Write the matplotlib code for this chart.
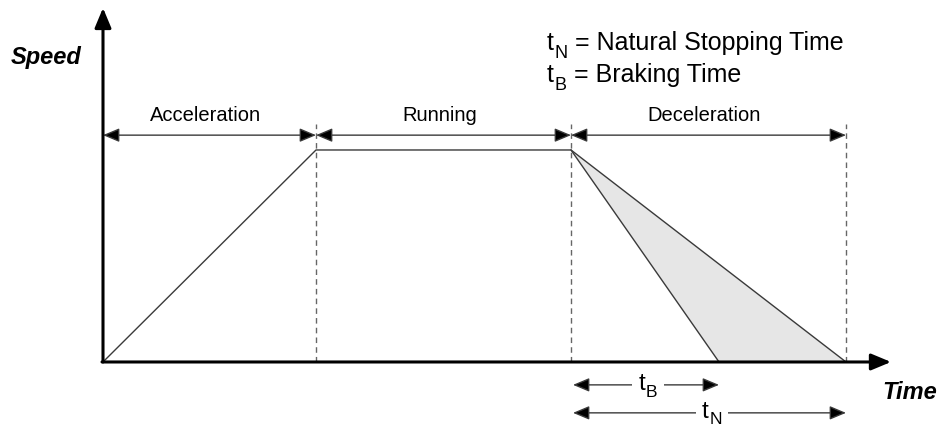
import matplotlib.pyplot as plt

plt.rcParams['font.family'] = ['Liberation Sans', 'DejaVu Sans']

# motion profile (time units, speed normalised to top speed)
phase_names = ['Acceleration', 'Running', 'Deceleration']
phase_bounds = [0.0, 2.13, 4.68, 7.43]
profile_t = [0.0, 2.13, 4.68, 7.43]
profile_v = [0.0, 1.0, 1.0, 0.0]
brake_t = [4.68, 6.16]
brake_v = [1.0, 0.0]
legend_subs = ['N', 'B']
legend_texts = ['= Natural Stopping Time', '= Braking Time']

# 100 px per time unit, 212 px per speed unit
fig = plt.figure(figsize=(9.42, 4.26), dpi=100)
ax = fig.add_axes([0, 0, 1, 1])
ax.set_xlim(-1.03, 8.39)
ax.set_ylim(-0.302, 1.7075)
ax.axis('off')

line_col = '#3a3a3a'


def t_sub(x, y, sub, ha='left', rest=None, size=17.5, drop=5.5):
    # "t" with a dropped subscript, built from plain text pieces
    tw = 0.278 * size
    sw = 0.7 * size * (0.72 if sub == 'N' else 0.667)
    total = tw + sw
    x0 = 0 if ha == 'left' else -total / 2
    ax.annotate('t', (x, y), xytext=(x0, 0), textcoords='offset points',
                fontsize=size, ha='left', va='baseline', zorder=6)
    ax.annotate(sub, (x, y), xytext=(x0 + tw + 0.3, -drop),
                textcoords='offset points', fontsize=size * 0.72,
                ha='left', va='baseline', zorder=6)
    if rest:
        ax.annotate(rest, (x, y), xytext=(x0 + total + 6, 0),
                    textcoords='offset points', fontsize=size,
                    ha='left', va='baseline', zorder=6)


# shaded area between braking and natural stop
ax.fill([brake_t[0], brake_t[1], profile_t[3]],
        [brake_v[0], brake_v[1], profile_v[3]],
        color='#e6e6e6', zorder=1, lw=0)

ax.plot(profile_t, profile_v, color=line_col, lw=1.0, zorder=3)
ax.plot(brake_t, brake_v, color=line_col, lw=1.0, zorder=3)

# dashed phase boundaries
for x in phase_bounds[1:]:
    ax.plot([x, x], [0, 1.123], color='#666666', lw=1.0,
            dashes=(4, 3), zorder=2)

# axes arrows
ax_style = '-|>,head_length=1.2,head_width=0.5'
ax.annotate('', xy=(0, 1.67), xytext=(0, 0),
            arrowprops=dict(arrowstyle=ax_style, lw=2.2, color='black',
                            shrinkA=0, shrinkB=0, mutation_scale=10), zorder=5)
ax.annotate('', xy=(7.88, 0), xytext=(-0.01, 0),
            arrowprops=dict(arrowstyle=ax_style, lw=2.2, color='black',
                            shrinkA=0, shrinkB=0, mutation_scale=10), zorder=5)

ax.text(-0.565, 1.435, 'Speed', fontsize=17, fontweight='bold',
        fontstyle='italic', ha='center', va='center')
ax.text(8.07, -0.145, 'Time', fontsize=17, fontweight='bold',
        fontstyle='italic', ha='center', va='center')

# phase arrows and labels
dim_style = '<|-|>,head_length=1.0,head_width=0.42'
for i, name in enumerate(phase_names):
    a, b = phase_bounds[i], phase_bounds[i + 1]
    ax.annotate('', xy=(b, 1.07), xytext=(a, 1.07),
                arrowprops=dict(arrowstyle=dim_style, lw=1.0,
                                color=line_col, fc='black',
                                shrinkA=0, shrinkB=0, mutation_scale=10))
    ax.text((a + b) / 2 - 0.04, 1.165, name, fontsize=14.5,
            ha='center', va='center')

# tB / tN dimension arrows below the axis
dims = [(brake_t[1], -0.108, 'B', -0.13, 5.5),
        (profile_t[3], -0.24, 'N', -0.262, 4.5)]
for end, y, sub, ty, drop in dims:
    ax.annotate('', xy=(end, y), xytext=(phase_bounds[2] + 0.02, y),
                arrowprops=dict(arrowstyle=dim_style, lw=1.0,
                                color=line_col, fc='black',
                                shrinkA=0, shrinkB=0, mutation_scale=10))
    mid = (phase_bounds[2] + end) / 2 + 0.03
    ax.add_patch(plt.Rectangle((mid - 0.16, y - 0.02), 0.32, 0.04,
                               fc='white', ec='none', zorder=4))
    t_sub(mid, ty, sub, ha='center', drop=drop)

for k in range(len(legend_subs)):
    t_sub(4.44, 1.472 - k * 0.151, legend_subs[k], rest=legend_texts[k],
          size=18)

fig.savefig('out.png', dpi=100)
